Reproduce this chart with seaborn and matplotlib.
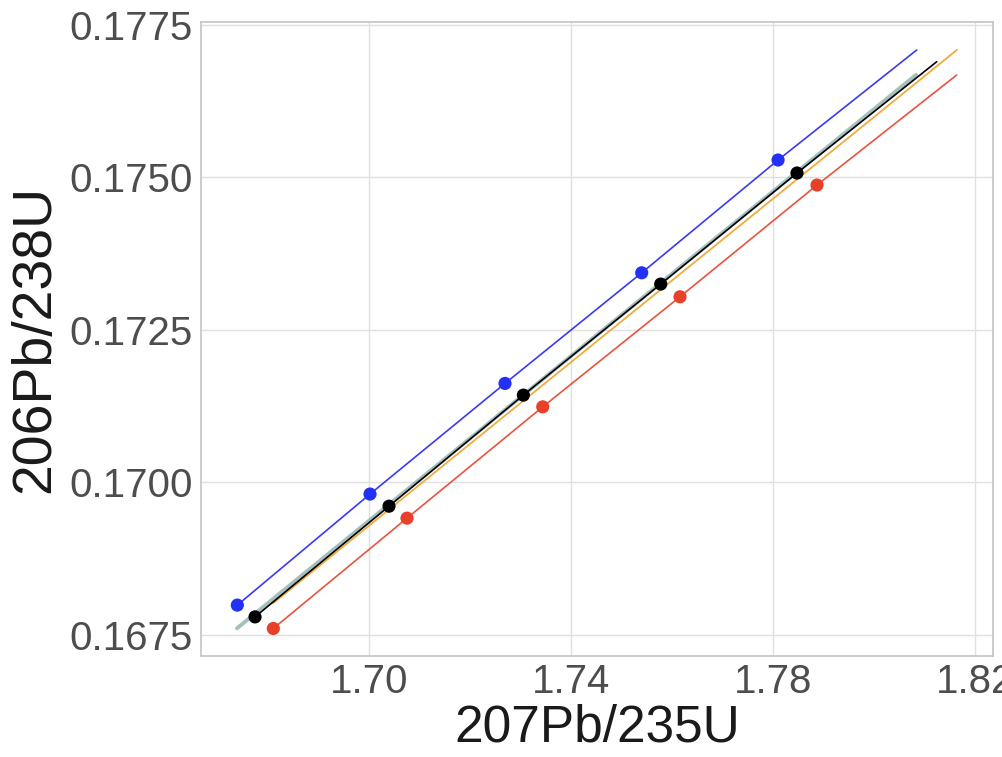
import numpy as np
import pandas as pd
import matplotlib
matplotlib.use("Agg")
import matplotlib.pyplot as plt
import seaborn as sns

# ---- data ----
blue_x = [1.67392, 1.7002, 1.72693, 1.7540, 1.7810]
blue_y = [0.16799, 0.16981, 0.171623, 0.173436, 0.175284]
blue_end = (1.80845, 0.177087)

black_x = [1.67743, 1.70396, 1.73056, 1.75776, 1.78475]
black_y = [0.167797, 0.169611, 0.171431, 0.173251, 0.175071]
black_end = (1.81241, 0.176895)

red_x = [1.68105, 1.70752, 1.7344, 1.76158, 1.78871]
red_y = [0.167607, 0.169415, 0.171239, 0.173043, 0.174874]
red_end = (1.81637, 0.176677)

teal_x = [1.67386, 1.80832]
teal_y = [0.16761, 0.17668]

orange_x = [1.6810, 1.81644]
orange_y = [0.16802, 0.17709]

x_ticks = [1.70, 1.74, 1.78, 1.82]
y_ticks = [0.1675, 0.1700, 0.1725, 0.1750, 0.1775]
x_label = "207Pb/235U"
y_label = "206Pb/238U"

# ---- figure ----
sns.set_theme(style="whitegrid")
plt.rcParams['font.family'] = ['Liberation Sans', 'DejaVu Sans']

fig = plt.figure(figsize=(10.03, 7.57), dpi=100)
ax = fig.add_axes([201/1003, 1 - 656/757, (993-201)/1003, (656-22)/757])

def line_df(xs, ys):
    return pd.DataFrame({"x": xs, "y": ys, "o": range(len(xs))})

def with_end(xs, ys, end):
    return list(xs) + [end[0]], list(ys) + [end[1]]

sns.lineplot(data=line_df(orange_x, orange_y), x="x", y="y", sort=False,
             color="#f2ab3c", lw=1.3, ax=ax, estimator=None)
sns.lineplot(data=line_df(teal_x, teal_y), x="x", y="y", sort=False,
             color="#8fb0b0", lw=2.8, alpha=0.8, ax=ax, estimator=None)

for xs, ys, end, col in [(black_x, black_y, black_end, "#000000"),
                         (blue_x, blue_y, blue_end, "#3a3af5"),
                         (red_x, red_y, red_end, "#e8543e")]:
    lx, ly = with_end(xs, ys, end)
    sns.lineplot(data=line_df(lx, ly), x="x", y="y", sort=False,
                 color=col, lw=1.2, ax=ax, estimator=None)

for xs, ys, col in [(blue_x, blue_y, "#2330f7"),
                    (black_x, black_y, "#000000"),
                    (red_x, red_y, "#e8412a")]:
    sns.scatterplot(x=xs, y=ys, color=col, s=90, edgecolor="none", ax=ax, zorder=5)

ax.set_xlim(1.66673, 1.82356)
ax.set_ylim(0.167156, 0.177546)
ax.set_xticks(x_ticks)
ax.set_xticklabels([f"{v:.2f}" for v in x_ticks])
ax.set_yticks(y_ticks)
ax.set_yticklabels([f"{v:.4f}" for v in y_ticks])

ax.grid(True, color="#e0e0e0", lw=1.0)
ax.set_facecolor("white")
for s in ax.spines.values():
    s.set_visible(True)
    s.set_color("#c4c4c4")
    s.set_linewidth(1.2)

ax.tick_params(axis="both", length=0, labelsize=29, colors="#4d4d4d")
ax.tick_params(axis="x", pad=5)
ax.tick_params(axis="y", pad=6)
ax.set_xlabel(x_label, fontsize=37, color="#1a1a1a", labelpad=2)
ax.set_ylabel(y_label, fontsize=40, color="#1a1a1a", labelpad=6)

fig.savefig("out.png", dpi=100)
